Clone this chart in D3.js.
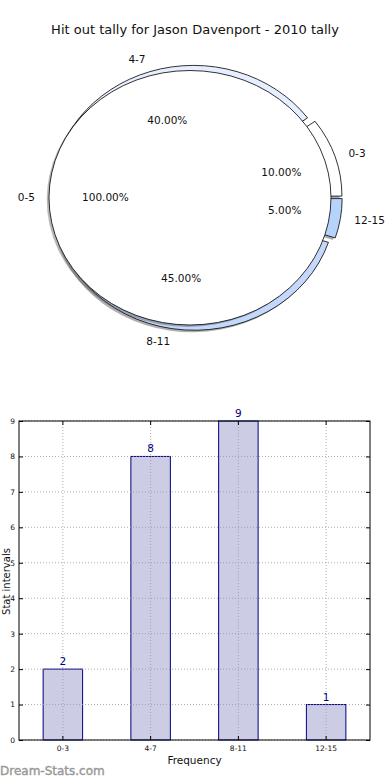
<!DOCTYPE html>
<html><head><meta charset="utf-8">
<script src="https://cdn.jsdelivr.net/npm/d3@7"></script>
<style>
html,body{margin:0;padding:0;background:#fff;}
svg{display:block;font-family:"DejaVu Sans",sans-serif;}
</style></head>
<body>
<svg id="c" width="390" height="780"></svg>
<script>
// ---- data ----
const title = "Hit out tally for Jason Davenport - 2010 tally";
const outerLabels = ["0-3", "4-7", "8-11", "12-15"];
const outerValues = [2, 8, 9, 1];
const outerColors = ["#ffffff", "#e6eeff", "#c4d8fc", "#b6d4fb"];
const innerLabels = ["0-5"];
const innerValues = [1];
const innerColors = ["#ffffff"];
const barCategories = ["0-3", "4-7", "8-11", "12-15"];
const barValues = [2, 8, 9, 1];
const yTicks = [0, 1, 2, 3, 4, 5, 6, 7, 8, 9];
const xAxisTitle = "Frequency";
const yAxisTitle = "Stat intervals";
const watermark = "Dream-Stats.com";

const svg = d3.select("#c");

// title
svg.append("text").attr("x", 195).attr("y", 34).attr("text-anchor", "middle")
  .attr("font-size", 13).attr("fill", "#111").text(title);

// ---- pie ----
const sx = 141, sy = 127.25;
const innerC = [190, 197.75];
const outerC = [195.3, 197.75];
const explode = 0.042;

// counter-clockwise from 3 o'clock (matplotlib convention)
const pieGen = d3.pie().sort(null).value(d => d)
  .startAngle(Math.PI / 2).endAngle(Math.PI / 2 - 2 * Math.PI);
const arcUnit = d3.arc().innerRadius(0).outerRadius(1);

function drawPie(values, colors, labels, center, ex, labDist, pctDist, shOpacity) {
  const arcs = pieGen(values);
  const sum = d3.sum(values);
  const g = svg.append("g").attr("transform", `translate(${center[0]},${center[1]}) scale(${sx},${sy})`);
  const dir = a => [Math.sin(a), -Math.cos(a)];
  // shadows
  arcs.forEach((a) => {
    const m = (a.startAngle + a.endAngle) / 2, d = dir(m);
    g.append("path").attr("d", arcUnit(a))
      .attr("transform", `translate(${d[0] * ex - 0.016},${d[1] * ex + 0.016})`)
      .attr("fill", "#4d4d4d").attr("fill-opacity", shOpacity).attr("stroke", "none");
  });
  arcs.forEach((a, i) => {
    const m = (a.startAngle + a.endAngle) / 2, d = dir(m);
    g.append("path").attr("d", arcUnit(a))
      .attr("transform", `translate(${d[0] * ex},${d[1] * ex})`)
      .attr("fill", colors[i]).attr("stroke", "#000").attr("stroke-width", 0.8)
      .attr("vector-effect", "non-scaling-stroke");
  });
  return arcs.map((a, i) => {
    const m = (a.startAngle + a.endAngle) / 2, d = dir(m);
    const lx = center[0] + d[0] * (labDist + ex) * sx;
    const ly = center[1] + d[1] * (labDist + ex) * sy;
    const px = center[0] + d[0] * (pctDist + ex) * sx;
    const py = center[1] + d[1] * (pctDist + ex) * sy;
    return {label: labels[i], pct: (100 * values[i] / sum).toFixed(2) + "%", lx, ly, px, py, right: d[0] < 0};
  });
}

const outerLab = drawPie(outerValues, outerColors, outerLabels, outerC, explode, 1.1, 0.6, 0.45);
const innerLab = drawPie(innerValues, innerColors, innerLabels, innerC, 0, 1.1, 0.6, 0.4);

[...outerLab, ...innerLab].forEach(l => {
  svg.append("text").attr("x", l.lx).attr("y", l.ly).attr("dy", "0.35em")
    .attr("text-anchor", l.right ? "end" : "start").attr("font-size", 10.5).attr("fill", "#111").text(l.label);
  svg.append("text").attr("x", l.px).attr("y", l.py).attr("dy", "0.35em")
    .attr("text-anchor", "middle").attr("font-size", 10.5).attr("fill", "#111").text(l.pct);
});

// ---- bar chart ----
const L = 19, R = 370, T = 421, B = 740;
const x = d3.scaleBand().domain(barCategories).range([L, R]).paddingInner(0.55).paddingOuter(0.275);
const y = d3.scaleLinear().domain([0, 9]).range([B, T]);
const gb = svg.append("g");

// bars
gb.selectAll(".bar").data(barValues).join("rect")
  .attr("x", (d, i) => x(barCategories[i])).attr("width", x.bandwidth())
  .attr("y", d => y(d)).attr("height", d => B - y(d))
  .attr("fill", "#ccccE5").attr("stroke", "#000080").attr("stroke-width", 1);

// dotted grid (drawn above bars)
gb.selectAll(".vg").data(barCategories).join("line")
  .attr("x1", d => x(d) + x.bandwidth() / 2).attr("x2", d => x(d) + x.bandwidth() / 2)
  .attr("y1", T).attr("y2", B)
  .attr("stroke", "#999").attr("stroke-width", 0.8).attr("stroke-dasharray", "1,2");
gb.selectAll(".hg").data(yTicks).join("line")
  .attr("x1", L).attr("x2", R).attr("y1", d => y(d)).attr("y2", d => y(d))
  .attr("stroke", "#999").attr("stroke-width", 0.8).attr("stroke-dasharray", "1,2");

// value labels
gb.selectAll(".vl").data(barValues).join("text")
  .attr("x", (d, i) => x(barCategories[i]) + x.bandwidth() / 2).attr("y", d => y(d) - 4)
  .attr("text-anchor", "middle").attr("font-size", 10.5).attr("fill", "#000080").text(d => d);

// frame
gb.append("rect").attr("x", L).attr("y", T).attr("width", R - L).attr("height", B - T)
  .attr("fill", "none").attr("stroke", "#000").attr("stroke-width", 1);

// axes (ticks inward)
const yAxL = d3.axisLeft(y).tickValues(yTicks).tickSize(-4).tickPadding(4);
const yAxR = d3.axisRight(y).tickValues(yTicks).tickSize(-4).tickFormat("");
const xAxB = d3.axisBottom(x).tickSize(-4).tickPadding(6);
const xAxT = d3.axisTop(x).tickSize(-4).tickFormat("");
function styleAx(sel) {
  sel.select(".domain").remove();
  sel.selectAll("text").attr("font-size", 7.5).attr("fill", "#111").attr("font-family", "DejaVu Sans");
  sel.selectAll("line").attr("stroke", "#000");
}
gb.append("g").attr("transform", `translate(${L},0)`).call(yAxL).call(styleAx);
gb.append("g").attr("transform", `translate(${R},0)`).call(yAxR).call(styleAx);
gb.append("g").attr("transform", `translate(0,${B})`).call(xAxB).call(styleAx);
gb.append("g").attr("transform", `translate(0,${T})`).call(xAxT).call(styleAx);

// axis titles
svg.append("text").attr("x", (L + R) / 2).attr("y", 764).attr("text-anchor", "middle")
  .attr("font-size", 10.5).attr("fill", "#111").text(xAxisTitle);
svg.append("text").attr("transform", `translate(9.5,${(T + B) / 2 + 1}) rotate(-90)`)
  .attr("text-anchor", "middle").attr("font-size", 10).attr("fill", "#111").text(yAxisTitle);

// watermark
svg.append("text").attr("x", 0).attr("y", 775).attr("font-size", 12)
  .attr("fill", "#999").attr("stroke", "#999").attr("stroke-width", 0.4).text(watermark);
</script>
</body></html>
